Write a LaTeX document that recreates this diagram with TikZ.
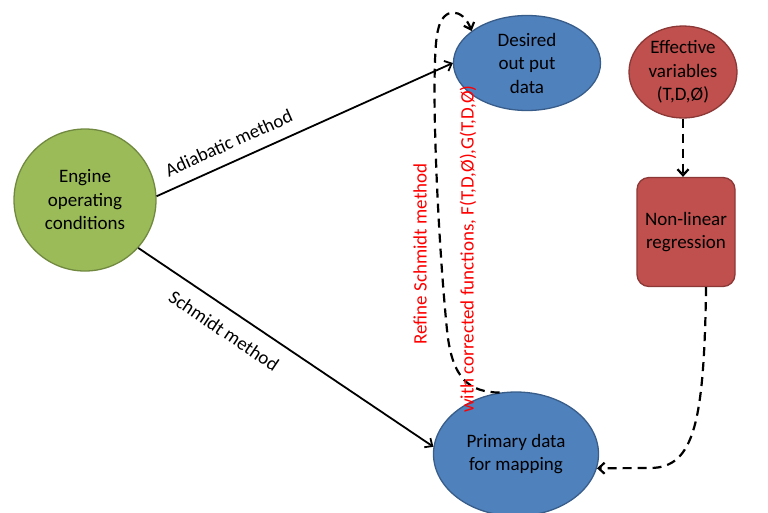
\documentclass[tikz,border=0pt]{standalone}
\usepackage{fontspec}
\setmainfont{Carlito}
\usetikzlibrary{arrows.meta,shapes.geometric}

\definecolor{azul}{HTML}{4F81BD}
\definecolor{azulb}{HTML}{385D8A}
\definecolor{verde}{HTML}{9BBB59}
\definecolor{verdeb}{HTML}{71893F}
\definecolor{verm}{HTML}{C0504D}
\definecolor{vermb}{HTML}{8C3836}

\begin{document}
\begin{tikzpicture}[x=1pt,y=-1pt,>={Straight Barb[length=6pt,width=11pt]},
  every node/.style={font=\fontsize{19}{23.5}\selectfont},
  bola/.style={ellipse,draw,line width=1.3pt,align=center,inner sep=0pt},
  caixa/.style={rectangle,rounded corners=12pt,draw=vermb,fill=verm,line width=1.3pt,align=center,
    minimum width=98pt,minimum height=109pt},
  seta/.style={->,line width=1.8pt},
  tracejado/.style={->,line width=2.2pt,dash pattern=on 9pt off 6pt},
  rotulo/.style={text=red,rotate=90}]
	\useasboundingbox (0,0) rectangle (768,512);
	% nos
	\node[bola,fill=verde,draw=verdeb,minimum width=142pt,minimum height=142pt] (engine) at (85,200) {Engine\\operating\\conditions};
	\node[bola,fill=azul,draw=azulb,minimum width=147pt,minimum height=95pt] (desired) at (527,63) {Desired\\out put\\data};
	\node[bola,fill=verm,draw=vermb,minimum width=108pt,minimum height=92pt] (effective) at (683,72) {Effective\\variables\\(T,D,Ø)};
	\node[caixa] (nonlinear) at (686,232) {Non-linear\\regression};
	\node[bola,fill=azul,draw=azulb,minimum width=165pt,minimum height=124pt] (primary) at (516,454) {Primary data\\for mapping};
	% setas cheias
	\draw[seta] (engine.3) -- (desired.180) node[sloped,above=8pt,pos=.27] {Adiabatic method};
	\draw[seta] (engine.-42) -- (primary.175) node[sloped,below=10pt,pos=.33] {Schmidt method};
	% setas tracejadas
	\draw[tracejado] (effective.south) -- (effective.south |- nonlinear.north);
	\draw[tracejado] (nonlinear.290) .. controls (704,420) and (695,468) .. (650,468) -- (primary.-10);
	\draw[tracejado] (primary.105) .. controls (470,392) and (452,380) .. (447,330)
	  .. controls (437,230) and (430,60) .. (438,30) .. controls (443,6) and (463,8) .. (desired.150);
	% rotulos
	\node[rotulo] (refine) at (420,254) {Refine Schmidt method};
	\node[rotulo] (corrected) at (468,249) {with corrected functions, F(T,D,Ø),G(T,D,Ø)};
\end{tikzpicture}
\end{document}
